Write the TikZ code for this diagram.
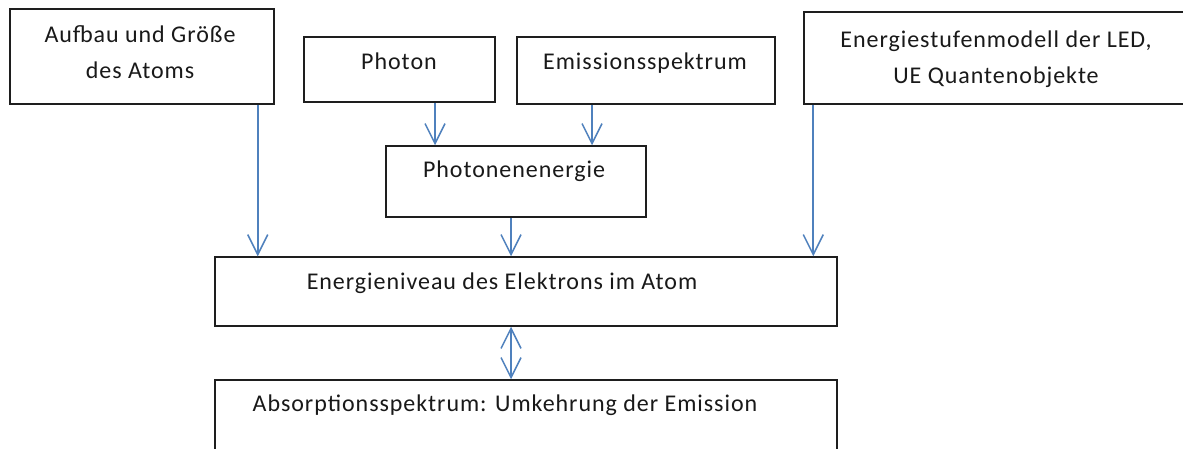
\documentclass[tikz,border=0pt]{standalone}
\usepackage{fontspec}
\setmainfont{Carlito}[LetterSpace=4]
\usetikzlibrary{arrows.meta}
\definecolor{arrblue}{RGB}{79,129,189}
\definecolor{boxline}{RGB}{30,30,30}
\tikzset{
  box/.style={draw=boxline, line width=1.5pt, rectangle, inner sep=0pt},
  txt/.style={inner sep=0pt, anchor=base, font=\fontsize{24}{28}\selectfont, text=black!90},
  tipv/.tip={Straight Barb[length=20pt,width=20pt,line width=1.5pt]},
  arr/.style={draw=arrblue, line width=1.6pt, -tipv},
  darr/.style={draw=arrblue, line width=1.6pt, tipv-tipv}
}
\begin{document}
\begin{tikzpicture}[x=1pt,y=-1pt]
\clip (0,0) rectangle (1183,448);
\fill[white] (0,0) rectangle (1183,448);
% boxes
\node[box, minimum width=264pt, minimum height=95pt] (aufbau) at (142,56.5) {};
\node[box, minimum width=191pt, minimum height=65pt] (photon) at (399.5,69.5) {};
\node[box, minimum width=258pt, minimum height=67pt] (emiss) at (646,70.5) {};
\node[box, minimum width=386pt, minimum height=92pt] (energ) at (997,58) {};
\node[box, minimum width=260pt, minimum height=71pt] (photen) at (516,181.5) {};
\node[box, minimum width=622pt, minimum height=69pt] (main) at (526,291.5) {};
\node[box, minimum width=622pt, minimum height=75pt] (absorb) at (526,417.5) {};
% texts
\node[txt] (t1a) at (140,42) {Aufbau und Größe};
\node[txt] (t1b) at (140,78) {des Atoms};
\node[txt] (t2) at (399,69) {Photon};
\node[txt] (t3) at (645,69) {Emissionsspektrum};
\node[txt] (t4a) at (996,47) {Energiestufenmodell der LED,};
\node[txt] (t4b) at (996,83) {UE Quantenobjekte};
\node[txt] (t5) at (514,177) {Photonenenergie};
\node[txt] (t6) at (502,289) {Energieniveau des Elektrons im Atom};
\node[txt] (t7) at (505,411) {Absorptionsspektrum: Umkehrung der Emission};
% arrows
\draw[arr] ([xshift=-17pt]aufbau.south east) -- ([xshift=-17pt]aufbau.south east |- main.north);
\draw[arr] ([xshift=35.5pt]photon.south) -- ([xshift=35.5pt]photon.south |- photen.north);
\draw[arr] ([xshift=-54pt]emiss.south) -- ([xshift=-54pt]emiss.south |- photen.north);
\draw[arr] ([xshift=-5pt]photen.south) -- ([xshift=-5pt]photen.south |- main.north);
\draw[arr] ([xshift=10pt]energ.south west) -- ([xshift=10pt]energ.south west |- main.north);
\draw[darr] ([xshift=-15pt]main.south) -- ([xshift=-15pt]main.south |- absorb.north);
\end{tikzpicture}
\end{document}
